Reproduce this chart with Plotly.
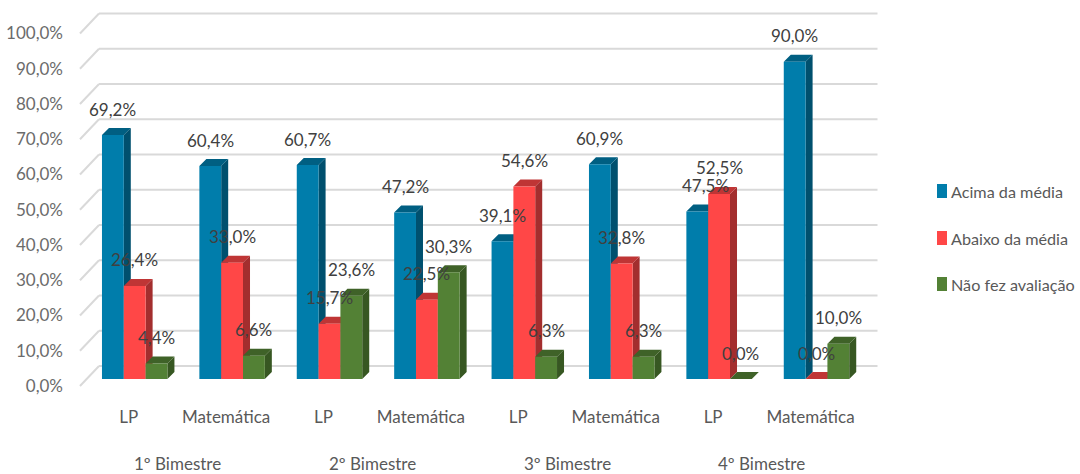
import plotly.graph_objects as go

categories = ["LP", "Matemática", "LP", "Matemática", "LP", "Matemática", "LP", "Matemática"]
groups = ["1º Bimestre", "2º Bimestre", "3º Bimestre", "4º Bimestre"]
acima = [69.2, 60.4, 60.7, 47.2, 39.1, 60.9, 47.5, 90.0]
abaixo = [26.4, 33.0, 15.7, 22.5, 54.6, 32.8, 52.5, 0.0]
nao_fez = [4.4, 6.6, 23.6, 30.3, 6.3, 6.3, 0.0, 10.0]
series_names = ["Acima da média", "Abaixo da média", "Não fez avaliação"]
y_ticks = [0, 10, 20, 30, 40, 50, 60, 70, 80, 90, 100]

series = [acima, abaixo, nao_fez]
front = ["#007DAB", "#FF4747", "#538135"]
side = ["#00506E", "#A32E2E", "#375722"]
top = ["#005F82", "#BF3535", "#3F6228"]

FONT = "Lato"
W, H = 1080, 474
L, R, T, B = 70, 885, 5, 395
PX_CAT = 97.4
PX_PCT = 3.525
X0_PX = 134.7
Y0_PX = 379
xdata = lambda px: (px - X0_PX) / PX_CAT
ydata = lambda py: (Y0_PX - py) / PX_PCT
xp = lambda px: (px - L) / (R - L)
yp = lambda py: 1 - (py - T) / (B - T)

BW = 0.224
DX = 7 / PX_CAT
DY = 7 / PX_PCT

fig = go.Figure()
xs = list(range(len(categories)))
for s, (vals, name) in enumerate(zip(series, series_names)):
    sx, sy, tx, ty = [], [], [], []
    for i, v in zip(xs, vals):
        a = i + (s - 1) * BW - BW / 2
        b = a + BW
        sx += [b, b + DX, b + DX, b, b, None]
        sy += [0, DY, v + DY, v, 0, None]
        tx += [a, a + DX, b + DX, b, a, None]
        ty += [v, v + DY, v + DY, v, v, None]
    fig.add_trace(go.Scatter(x=sx, y=sy, mode="lines", fill="toself", fillcolor=side[s],
                             line=dict(width=0), hoverinfo="skip", showlegend=False, zorder=3 * s))
    fig.add_trace(go.Scatter(x=tx, y=ty, mode="lines", fill="toself", fillcolor=top[s],
                             line=dict(width=0), hoverinfo="skip", showlegend=False, zorder=3 * s + 1))
    fig.add_trace(go.Bar(x=xs, y=vals, name=name, marker=dict(color=front[s], line=dict(width=0)),
                         showlegend=False, zorder=3 * s + 2))

shapes = []
for v in y_ticks:
    back = v + ydata(366)
    shapes.append(dict(type="line", xref="x", yref="y", layer="below",
                       x0=xdata(80), y0=v + ydata(386), x1=xdata(99), y1=back,
                       line=dict(color="#D9D9D9", width=2)))
    shapes.append(dict(type="line", xref="x", yref="y", layer="below",
                       x0=xdata(99), y0=back, x1=xdata(877.5), y1=back,
                       line=dict(color="#D9D9D9", width=2)))

annotations = []
for s, vals in enumerate(series):
    for i, v in zip(xs, vals):
        shift = 8 if (s == 0 and i == 6) else 0
        annotations.append(dict(x=i + (s - 1) * BW, y=v, xref="x", yref="y", showarrow=False,
                                text=f"{v:.1f}".replace(".", ",") + "%", xanchor="center", yanchor="middle",
                                yshift=26, xshift=shift,
                                font=dict(family=FONT, size=17, color="#404040")))
for g, name in enumerate(groups):
    annotations.append(dict(x=2 * g + 0.5, y=0, xref="x", yref="paper", showarrow=False, text=name,
                            xanchor="center", yanchor="middle", xshift=-6, yshift=-(463 - B),
                            font=dict(family=FONT, size=17, color="#595959")))

legend_y = [191, 238, 284]
for name, color, ly in zip(series_names, front, legend_y):
    shapes.append(dict(type="rect", xref="paper", yref="paper", x0=xp(937), x1=xp(947),
                       y0=yp(ly - 7), y1=yp(ly + 7), fillcolor=color, line=dict(width=0)))
    annotations.append(dict(x=xp(949), y=yp(ly), xref="paper", yref="paper", showarrow=False, text=name,
                            xanchor="left", yanchor="middle",
                            font=dict(family=FONT, size=16.2, color="#595959")))

fig.update_layout(
    width=W, height=H, autosize=False,
    margin=dict(l=L, r=W - R, t=T, b=H - B, pad=0),
    paper_bgcolor="white", plot_bgcolor="white",
    barmode="group", bargap=1 - 3 * BW, bargroupgap=0,
    showlegend=False, shapes=shapes, annotations=annotations,
    xaxis=dict(range=[xdata(L), xdata(R)], tickmode="array", tickvals=xs, ticktext=categories,
               showgrid=False, zeroline=False, showline=False, ticks="",
               ticklabelshift=-6, ticklabelstandoff=10,
               tickfont=dict(family=FONT, size=17, color="#595959")),
    yaxis=dict(range=[ydata(B), ydata(T)], tickmode="array", tickvals=y_ticks,
               ticktext=[f"{v:.1f}".replace(".", ",") + "%" for v in y_ticks],
               showgrid=False, zeroline=False, showline=False, ticks="",
               ticklabelshift=7, ticklabelstandoff=6,
               tickfont=dict(family=FONT, size=17, color="#6B6B6B")),
)

fig.write_html("out.html", config={"displayModeBar": False},
               post_script="document.body.style.margin='0';document.body.style.overflow='hidden';")
